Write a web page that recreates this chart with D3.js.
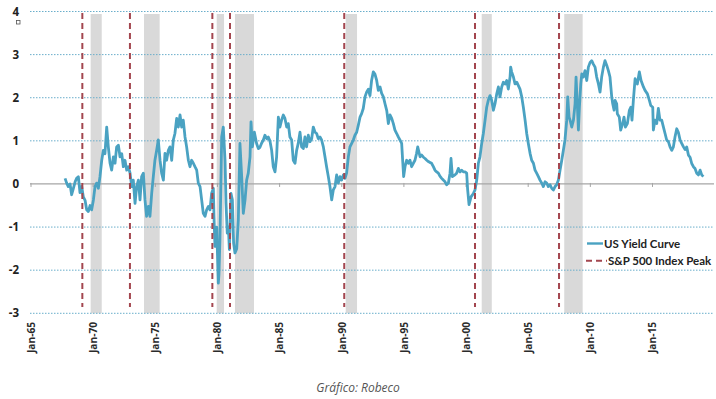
<!DOCTYPE html>
<html>
<head>
<meta charset="utf-8">
<script src="https://d3js.org/d3.v7.min.js"></script>
<style>
  html, body { margin: 0; padding: 0; background: #fff; }
  svg { display: block; font-family: "Open Sans", Lato, sans-serif; }
</style>
</head>
<body>
<svg id="chart" width="716" height="399"></svg>
<script>
// decimal year of each reading and the yield curve spread (10y - 3m, %)
const dates = [
  1967.74, 1967.87, 1968.00, 1968.14, 1968.27, 1968.41, 1968.55, 1968.67, 1968.81, 1968.94,
  1969.08, 1969.21, 1969.35, 1969.48, 1969.61, 1969.75, 1969.88, 1970.02, 1970.15, 1970.28,
  1970.42, 1970.55, 1970.69, 1970.82, 1970.95, 1971.09, 1971.22, 1971.36, 1971.49, 1971.63,
  1971.76, 1971.89, 1972.03, 1972.16, 1972.30, 1972.43, 1972.56, 1972.70, 1972.83, 1972.97,
  1973.10, 1973.23, 1973.37, 1973.50, 1973.64, 1973.77, 1973.90, 1974.04, 1974.17, 1974.30,
  1974.44, 1974.57, 1974.71, 1974.84, 1974.97, 1975.11, 1975.24, 1975.38, 1975.51, 1975.65,
  1975.78, 1975.91, 1976.05, 1976.18, 1976.32, 1976.45, 1976.58, 1976.72, 1976.85, 1976.99,
  1977.12, 1977.25, 1977.39, 1977.52, 1977.66, 1977.79, 1977.92, 1978.06, 1978.19, 1978.33,
  1978.46, 1978.60, 1978.73, 1978.86, 1979.00, 1979.13, 1979.27, 1979.40, 1979.53, 1979.67,
  1979.72, 1979.80, 1979.94, 1980.07, 1980.12, 1980.20, 1980.34, 1980.47, 1980.61, 1980.69,
  1980.79, 1980.88, 1980.96, 1981.09, 1981.20, 1981.30, 1981.41, 1981.55, 1981.68, 1981.81,
  1981.95, 1982.08, 1982.22, 1982.35, 1982.48, 1982.62, 1982.70, 1982.81, 1982.97, 1983.15,
  1983.29, 1983.42, 1983.56, 1983.69, 1983.82, 1983.96, 1984.09, 1984.22, 1984.36, 1984.49,
  1984.63, 1984.76, 1984.90, 1985.03, 1985.16, 1985.30, 1985.43, 1985.57, 1985.70, 1985.83,
  1985.97, 1986.10, 1986.24, 1986.37, 1986.50, 1986.64, 1986.77, 1986.91, 1987.04, 1987.17,
  1987.31, 1987.44, 1987.58, 1987.71, 1987.85, 1987.98, 1988.11, 1988.25, 1988.38, 1988.52,
  1988.65, 1988.78, 1988.92, 1989.05, 1989.19, 1989.32, 1989.46, 1989.59, 1989.72, 1989.86,
  1989.99, 1990.13, 1990.26, 1990.39, 1990.53, 1990.66, 1990.80, 1990.93, 1991.06, 1991.20,
  1991.33, 1991.47, 1991.60, 1991.73, 1991.87, 1992.00, 1992.14, 1992.27, 1992.40, 1992.54,
  1992.67, 1992.81, 1992.94, 1993.08, 1993.21, 1993.35, 1993.48, 1993.62, 1993.75, 1993.88,
  1994.02, 1994.15, 1994.28, 1994.42, 1994.55, 1994.68, 1994.82, 1994.90, 1994.98, 1995.09,
  1995.22, 1995.36, 1995.49, 1995.62, 1995.76, 1995.89, 1996.02, 1996.11, 1996.30, 1996.43,
  1996.57, 1996.70, 1996.84, 1996.97, 1997.10, 1997.23, 1997.37, 1997.50, 1997.64, 1997.77,
  1997.90, 1998.04, 1998.17, 1998.31, 1998.44, 1998.58, 1998.71, 1998.79, 1998.90, 1999.11,
  1999.24, 1999.38, 1999.51, 1999.65, 1999.78, 1999.92, 2000.05, 2000.13, 2000.24, 2000.40,
  2000.59, 2000.72, 2000.86, 2000.99, 2001.12, 2001.26, 2001.39, 2001.53, 2001.66, 2001.79,
  2001.93, 2002.06, 2002.20, 2002.33, 2002.47, 2002.60, 2002.73, 2002.87, 2003.00, 2003.14,
  2003.27, 2003.40, 2003.54, 2003.59, 2003.67, 2003.81, 2003.94, 2004.08, 2004.21, 2004.34,
  2004.48, 2004.61, 2004.75, 2004.88, 2005.01, 2005.15, 2005.28, 2005.42, 2005.55, 2005.68,
  2005.82, 2005.95, 2006.09, 2006.22, 2006.36, 2006.49, 2006.62, 2006.76, 2006.89, 2007.03,
  2007.16, 2007.29, 2007.43, 2007.56, 2007.70, 2007.83, 2007.96, 2008.10, 2008.18, 2008.29,
  2008.37, 2008.50, 2008.64, 2008.77, 2008.85, 2008.96, 2009.04, 2009.12, 2009.23, 2009.31,
  2009.44, 2009.57, 2009.71, 2009.84, 2009.98, 2010.11, 2010.24, 2010.38, 2010.51, 2010.65,
  2010.78, 2010.91, 2011.05, 2011.18, 2011.32, 2011.45, 2011.58, 2011.72, 2011.80, 2011.91,
  2011.99, 2012.12, 2012.17, 2012.33, 2012.44, 2012.60, 2012.71, 2012.82, 2012.98, 2013.14,
  2013.25, 2013.35, 2013.46, 2013.60, 2013.78, 2013.94, 2014.08, 2014.27, 2014.40, 2014.59,
  2014.75, 2014.86, 2015.02, 2015.07, 2015.20, 2015.34, 2015.47, 2015.60, 2015.74, 2015.88,
  2016.01, 2016.14, 2016.28, 2016.41, 2016.55, 2016.68, 2016.81, 2016.95, 2017.08, 2017.22,
  2017.35, 2017.49, 2017.62, 2017.75, 2017.89, 2018.02, 2018.15, 2018.29, 2018.42, 2018.56,
  2018.69, 2018.83, 2018.96, 2019.09
]
const curve = [
  0.13, 0.02, -0.06, 0.00, -0.25, -0.10, 0.05, 0.13, 0.17, -0.20,
  -0.06, -0.30, -0.38, -0.60, -0.64, -0.50, -0.60, -0.37, -0.06, 0.02,
  -0.10, 0.17, 0.55, 0.78, 0.70, 1.32, 0.86, 0.48, 0.32, 0.63,
  0.48, 0.86, 0.90, 0.63, 0.70, 0.40, 0.55, 0.32, 0.40, 0.25,
  -0.06, 0.09, -0.45, -0.06, 0.09, -0.37, 0.17, 0.25, -0.37, -0.75,
  -0.52, -0.75, -0.22, 0.17, 0.55, 0.78, 1.02, 0.55, 0.25, 0.09,
  0.71, 0.55, 0.78, 0.86, 0.55, 1.02, 1.17, 1.52, 1.32, 1.60,
  1.32, 1.48, 1.09, 0.86, 0.55, 0.40, 0.55, 0.48, 0.40, 0.32,
  0.02, -0.06, -0.37, -0.68, -0.75, -0.60, -0.52, -0.60, -0.22, -0.10,
  -0.75, -1.45, -1.00, -2.30, -2.10, -1.30, 1.09, 1.32, 0.55, -0.45,
  -1.14, -1.00, -1.52, -0.22, -0.37, -1.37, -1.60, -1.50, -0.83, 0.94,
  0.17, -0.68, -0.37, 0.09, 0.25, 0.63, 1.44, 0.86, 1.20, 0.94,
  0.82, 0.85, 0.95, 1.02, 1.13, 1.05, 1.09, 1.00, 0.78, 0.40,
  0.28, 0.63, 1.55, 1.32, 1.48, 1.60, 1.52, 1.32, 1.40, 1.09,
  1.02, 0.55, 0.48, 0.78, 0.94, 1.20, 0.86, 0.82, 1.09, 0.86,
  1.13, 0.98, 1.05, 1.32, 1.20, 1.17, 1.05, 1.09, 1.02, 0.86,
  0.63, 0.40, 0.17, -0.06, -0.37, -0.14, -0.06, 0.21, 0.02, 0.17,
  0.09, 0.21, 0.13, 0.25, 0.63, 0.86, 0.94, 1.02, 1.13, 1.20,
  1.36, 1.55, 1.63, 1.75, 2.02, 2.13, 2.20, 2.05, 2.40, 2.60,
  2.55, 2.40, 2.17, 2.25, 2.10, 2.02, 1.86, 1.70, 1.40, 1.60,
  1.52, 1.40, 1.25, 1.17, 1.09, 1.02, 0.94, 0.55, 0.17, 0.40,
  0.55, 0.48, 0.55, 0.40, 0.48, 0.55, 0.71, 0.86, 0.63, 0.67,
  0.62, 0.59, 0.55, 0.52, 0.50, 0.48, 0.40, 0.32, 0.28, 0.25,
  0.18, 0.13, 0.09, 0.05, -0.02, 0.02, 0.25, 0.59, 0.17, 0.21,
  0.25, 0.36, 0.28, 0.32, 0.28, 0.28, 0.25, -0.14, -0.48, -0.30,
  -0.22, -0.14, 0.09, 0.48, 0.63, 0.94, 1.17, 1.48, 1.78, 1.94,
  2.05, 1.94, 1.71, 1.86, 2.09, 2.25, 2.02, 2.25, 2.36, 2.32,
  2.40, 2.20, 2.48, 2.71, 2.60, 2.48, 2.32, 2.36, 2.28, 2.20,
  2.02, 1.78, 1.48, 1.17, 0.94, 0.71, 0.55, 0.48, 0.32, 0.25,
  0.17, 0.09, 0.02, -0.06, 0.05, 0.02, -0.06, -0.02, -0.10, -0.14,
  -0.06, -0.02, 0.09, 0.32, 0.55, 0.78, 1.02, 1.48, 2.02, 1.55,
  1.48, 1.32, 1.48, 1.86, 2.48, 1.78, 1.25, 1.78, 2.32, 2.55,
  2.48, 2.63, 2.40, 2.71, 2.82, 2.86, 2.78, 2.71, 2.48, 2.32,
  2.13, 2.48, 2.71, 2.86, 2.75, 2.63, 2.48, 2.02, 1.86, 1.71,
  1.94, 1.86, 1.63, 1.55, 1.25, 1.40, 1.55, 1.32, 1.40, 1.71,
  1.78, 1.48, 1.94, 2.44, 2.32, 2.60, 2.40, 2.25, 2.17, 2.09,
  1.94, 1.82, 1.78, 1.25, 1.48, 1.40, 1.75, 1.48, 1.48, 1.32,
  1.17, 1.02, 0.98, 0.86, 0.78, 0.86, 1.09, 1.28, 1.20, 1.02,
  0.94, 0.86, 0.80, 0.86, 0.67, 0.62, 0.48, 0.40, 0.36, 0.25,
  0.21, 0.32, 0.21, 0.17
]

// S&P 500 index peaks and recessions, decimal years
const peaks = [1969.13, 1972.96, 1979.59, 1981.01, 1990.20, 2000.72, 2007.48]
const recessionStart = [1969.80, 1974.09, 1979.94, 1981.41, 1990.32, 2001.26, 2007.90]
const recessionEnd = [1970.69, 1975.35, 1980.53, 1982.94, 1991.23, 2002.07, 2009.38]

const yTicks = [4, 3, 2, 1, 0, -1, -2, -3]
const xTickYears = [1965, 1970, 1975, 1980, 1985, 1990, 1995, 2000, 2005, 2010, 2015]
const xTickLabels = ['Jan-65', 'Jan-70', 'Jan-75', 'Jan-80', 'Jan-85', 'Jan-90', 'Jan-95', 'Jan-00', 'Jan-05', 'Jan-10', 'Jan-15']

const svg = d3.select('#chart')
const plotLeft = 30, plotRight = 714

const x = d3.scaleLinear().domain([1965, 2020]).range([31, 31 + 55 * 12.43])
const y = d3.scaleLinear().domain([-3, 4]).range([313.3, 11.5])

// recession bars
svg.append('g').selectAll('rect')
    .data(d3.range(recessionStart.length))
    .join('rect')
    .attr('x', i => x(recessionStart[i]))
    .attr('width', i => x(recessionEnd[i]) - x(recessionStart[i]))
    .attr('y', 14)
    .attr('height', y(-3) - 14)
    .attr('fill', '#d9d9d9')

// dotted gridlines
svg.append('g').selectAll('line')
    .data(yTicks.filter(d => d !== 0))
    .join('line')
    .attr('x1', plotLeft).attr('x2', plotRight)
    .attr('y1', d => y(d)).attr('y2', d => y(d))
    .attr('stroke', '#6aaecb')
    .attr('stroke-width', 1)
    .attr('stroke-dasharray', '1.5,1.5')

// zero axis with ticks
svg.append('line')
    .attr('x1', plotLeft).attr('x2', plotRight)
    .attr('y1', y(0)).attr('y2', y(0))
    .attr('stroke', '#a6a6a6').attr('stroke-width', 1.3)

svg.append('g').selectAll('line')
    .data(xTickYears)
    .join('line')
    .attr('x1', d => x(d)).attr('x2', d => x(d))
    .attr('y1', y(0) - 1).attr('y2', y(0) + 3)
    .attr('stroke', '#a6a6a6').attr('stroke-width', 1)

// y labels
svg.append('g').selectAll('text')
    .data(yTicks)
    .join('text')
    .attr('x', 19)
    .attr('y', d => y(d))
    .attr('dy', '0.35em')
    .attr('text-anchor', 'end')
    .attr('font-size', 11.5)
    .attr('font-weight', 'bold')
    .attr('fill', '#222')
    .text(d => d)

svg.append('rect')
    .attr('x', 16.5).attr('y', 20.5).attr('width', 3.5).attr('height', 3.5)
    .attr('fill', '#fff').attr('stroke', '#555').attr('stroke-width', 0.8)

// x labels, rotated
svg.append('g').selectAll('text')
    .data(xTickYears)
    .join('text')
    .attr('transform', d => `translate(${x(d)},322) rotate(-90)`)
    .attr('dy', '0.35em')
    .attr('text-anchor', 'end')
    .attr('font-size', 11)
    .attr('font-weight', 'bold')
    .attr('fill', '#2b2b2b')
    .attr('textLength', 31).attr('lengthAdjust', 'spacingAndGlyphs')
    .text((d, i) => xTickLabels[i])

// yield curve line
const line = d3.line()
    .x(i => x(dates[i]))
    .y(i => y(curve[i]))

svg.append('path')
    .datum(d3.range(dates.length))
    .attr('d', line)
    .attr('fill', 'none')
    .attr('stroke', '#4aa2c2')
    .attr('stroke-width', 2.8)
    .attr('stroke-linejoin', 'round')

// S&P peak dashed lines
svg.append('g').selectAll('line')
    .data(peaks)
    .join('line')
    .attr('x1', d => x(d)).attr('x2', d => x(d))
    .attr('y1', 13).attr('y2', 307)
    .attr('stroke', '#a3464f')
    .attr('stroke-width', 2)
    .attr('stroke-dasharray', '6,4')

// legend
const legend = svg.append('g')
    .attr('font-family', 'Lato, "Open Sans", sans-serif')
    .attr('font-size', 11.5).attr('font-weight', 'bold').attr('fill', '#222')
legend.append('line')
    .attr('x1', 587).attr('x2', 603).attr('y1', 243.5).attr('y2', 243.5)
    .attr('stroke', '#4aa2c2').attr('stroke-width', 2.4)
legend.append('text').attr('x', 604).attr('y', 243.5).attr('dy', '0.35em')
    .text('US Yield Curve')
legend.append('line')
    .attr('x1', 586).attr('x2', 607).attr('y1', 260.7).attr('y2', 260.7)
    .attr('stroke', '#a3464f').attr('stroke-width', 2).attr('stroke-dasharray', '6,4')
legend.append('text').attr('x', 608).attr('y', 260.7).attr('dy', '0.35em')
    .text('S&P 500 Index Peak')

// caption
svg.append('text')
    .attr('x', 358).attr('y', 392)
    .attr('text-anchor', 'middle')
    .attr('font-size', 12)
    .attr('font-style', 'italic')
    .attr('fill', '#555')
    .text('Gráfico: Robeco')
</script>
</body>
</html>
